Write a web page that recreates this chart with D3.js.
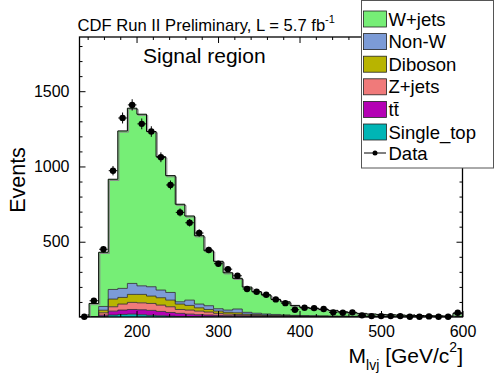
<!DOCTYPE html>
<html>
<head>
<meta charset="utf-8">
<script src="https://cdn.jsdelivr.net/npm/d3@7"></script>
<style>
  body { margin: 0; background: #fff; }
  svg text { font-family: "Liberation Sans", Arial, Helvetica, sans-serif; fill: #000; }
</style>
</head>
<body>
<div id="chart"></div>
<script>
"use strict"

// binning of the M_lvj histogram (GeV/c^2)
const xMin = 130, xMax = 600, nBins = 40;

// observed events per bin
const dataCounts = [2, 108, 450, 972, 1322, 1409, 1283, 1232, 1061, 877,
  695, 626, 558, 445, 354, 318, 274, 186, 168, 148,
  117, 92, 48, 61, 59, 53, 31, 28, 31, 11,
  6, 6, 6, 6, 2, 2, 4, 2, 2, 28];

// background expectations per bin (stacked bottom -> top)
const singleTop = [0, 0, 3, 13, 17, 19, 15, 11, 8, 6,
  4, 3, 2, 2, 1, 1, 1, 1, 1, 1,
  0, 0, 0, 0, 0, 0, 0, 0, 0, 0,
  0, 0, 0, 0, 0, 0, 0, 0, 0, 0];
const ttbar = [0, 0, 9, 26, 29, 31, 33, 33, 29, 24,
  20, 16, 13, 11, 10, 8, 8, 6, 5, 4,
  4, 4, 3, 3, 2, 2, 2, 1, 1, 1,
  1, 1, 1, 1, 0, 0, 0, 0, 0, 1];
const zjets = [0, 1, 16, 29, 40, 47, 46, 46, 42, 38,
  26, 27, 24, 20, 13, 10, 8, 6, 5, 4,
  4, 3, 3, 2, 2, 2, 1, 2, 1, 1,
  1, 1, 0, 0, 1, 1, 1, 0, 0, 1];
const diboson = [0, 0, 17, 51, 44, 53, 56, 49, 49, 44,
  36, 31, 22, 17, 15, 12, 11, 6, 5, 4,
  3, 3, 2, 2, 2, 1, 1, 1, 1, 1,
  1, 0, 1, 1, 0, 0, 0, 1, 1, 1];
const nonW = [0, 1, 25, 64, 60, 73, 57, 62, 51, 51,
  15, 35, 25, 25, 16, 15, 25, 12, 9, 7,
  6, 4, 3, 2, 2, 2, 2, 1, 2, 1,
  1, 1, 1, 0, 1, 1, 0, 0, 0, 1];
const wjets = [0, 88, 360, 732, 1046, 1164, 1140, 1031, 886, 776,
  648, 559, 454, 365, 315, 248, 204, 168, 143, 126,
  100, 87, 66, 55, 49, 43, 38, 30, 23, 20,
  16, 14, 12, 11, 9, 8, 8, 7, 6, 20];

const seriesNames = ["Single_top", "tt", "Z+jets", "Diboson", "Non-W", "W+jets"];
const seriesValues = [singleTop, ttbar, zjets, diboson, nonW, wjets];
const seriesColors = ["#00b5b5", "#b400b4", "#f07a7a", "#b8b400", "#7c9bd6", "#76ee76"];

const xTicks = [200, 300, 400, 500, 600];
const yTicks = [500, 1000, 1500];

const width = 498, height = 374;
const margin = {top: 37, right: 35.5, bottom: 57, left: 79.5};
const yMax = 1860;

const svg = d3.select("#chart").append("svg")
  .attr("width", width)
  .attr("height", height);

const x = d3.scaleLinear().domain([xMin, xMax]).range([margin.left, width - margin.right]);
const y = d3.scaleLinear().domain([0, yMax]).range([height - margin.bottom, margin.top]);

const binW = (xMax - xMin) / nBins;
const edges = d3.range(nBins + 1).map(i => xMin + i * binW);

// table for the stack
const rows = edges.slice(0, nBins).map((e, i) => {
  const r = {lo: e};
  seriesNames.forEach((n, k) => { r[n] = seriesValues[k][i]; });
  return r;
});
const stacked = d3.stack().keys(seriesNames)(rows);

svg.append("clipPath").attr("id", "plotclip")
  .append("rect")
  .attr("x", margin.left).attr("y", margin.top)
  .attr("width", x(xMax) - x(xMin)).attr("height", y(0) - y(yMax));

const plot = svg.append("g").attr("clip-path", "url(#plotclip)");

// step points: one per bin plus the closing edge
function stepPoints(layer) {
  const pts = layer.map((d, i) => ({e: edges[i], lo: d[0], hi: d[1]}));
  const last = pts[pts.length - 1];
  pts.push({e: edges[nBins], lo: last.lo, hi: last.hi});
  return pts;
}

const area = d3.area().curve(d3.curveStepAfter)
  .x(d => x(d.e)).y0(d => y(d.lo)).y1(d => y(d.hi));
const line = d3.line().curve(d3.curveStepAfter)
  .x(d => x(d.e)).y(d => y(d.hi));

stacked.slice().reverse().forEach(layer => {
  const k = seriesNames.indexOf(layer.key);
  plot.append("path")
    .attr("d", area(stepPoints(layer)))
    .attr("fill", seriesColors[k]);
});
stacked.forEach(layer => {
  if (layer.key === "W+jets") return;
  plot.append("path")
    .attr("d", line(stepPoints(layer)))
    .attr("fill", "none")
    .attr("stroke", "#2a2a2a")
    .attr("stroke-width", 0.8);
});

// total MC outline (with grey shadow)
const totalPts = stepPoints(stacked[stacked.length - 1]);
plot.append("path")
  .attr("d", line(totalPts))
  .attr("transform", "translate(1.2,1.2)")
  .attr("fill", "none")
  .attr("stroke", "#8a8a8a")
  .attr("stroke-width", 1);
plot.append("path")
  .attr("d", line(totalPts))
  .attr("fill", "none")
  .attr("stroke", "#000")
  .attr("stroke-width", 1);

// data points with error bars
const pts = svg.append("g");
dataCounts.forEach((n, i) => {
  const c = edges[i] + binW / 2;
  const err = Math.sqrt(n);
  pts.append("line")
    .attr("x1", x(c)).attr("x2", x(c))
    .attr("y1", y(n + err)).attr("y2", y(Math.max(0, n - err)))
    .attr("stroke", "#000").attr("stroke-width", 1);
  pts.append("line")
    .attr("x1", x(edges[i]) + 0.5).attr("x2", x(edges[i + 1]) - 0.5)
    .attr("y1", y(n)).attr("y2", y(n))
    .attr("stroke", "#000").attr("stroke-width", 1);
  pts.append("circle")
    .attr("cx", x(c)).attr("cy", y(n)).attr("r", 3.2)
    .attr("fill", "#000");
});

// axes (ticks pointing inwards on all four sides)
const minorX = d3.range(140, 600, 20).filter(v => v % 100 !== 0);
const minorY = d3.range(100, 1900, 100).filter(v => v % 500 !== 0);

function clean(g) {
  g.select(".domain").remove();
  g.selectAll(".tick line").attr("stroke", "#000");
}

svg.append("g")
  .attr("transform", "translate(0," + y(0) + ")")
  .style("font-size", "16px")
  .call(d3.axisBottom(x).tickValues(xTicks).tickSize(-6).tickPadding(9).tickFormat(d3.format("d")))
  .call(clean)
  .call(g => g.selectAll(".tick text").attr("fill", "#000").style("font-family", "Liberation Sans, Arial, sans-serif"));
svg.append("g")
  .attr("transform", "translate(0," + y(0) + ")")
  .call(d3.axisBottom(x).tickValues(minorX).tickSize(-3).tickFormat(""))
  .call(clean);
svg.append("g")
  .attr("transform", "translate(0," + y(yMax) + ")")
  .call(d3.axisTop(x).tickValues(xTicks).tickSize(-6).tickFormat(""))
  .call(clean);
svg.append("g")
  .attr("transform", "translate(0," + y(yMax) + ")")
  .call(d3.axisTop(x).tickValues(minorX).tickSize(-3).tickFormat(""))
  .call(clean);

svg.append("g")
  .attr("transform", "translate(" + x(xMin) + ",0)")
  .style("font-size", "16px")
  .call(d3.axisLeft(y).tickValues(yTicks).tickSize(-6).tickPadding(10).tickFormat(d3.format("d")))
  .call(clean)
  .call(g => g.selectAll(".tick text").attr("fill", "#000").style("font-family", "Liberation Sans, Arial, sans-serif"));
svg.append("g")
  .attr("transform", "translate(" + x(xMin) + ",0)")
  .call(d3.axisLeft(y).tickValues(minorY).tickSize(-3).tickFormat(""))
  .call(clean);
svg.append("g")
  .attr("transform", "translate(" + x(xMax) + ",0)")
  .call(d3.axisRight(y).tickValues(yTicks).tickSize(-6).tickFormat(""))
  .call(clean);
svg.append("g")
  .attr("transform", "translate(" + x(xMax) + ",0)")
  .call(d3.axisRight(y).tickValues(minorY).tickSize(-3).tickFormat(""))
  .call(clean);

// frame
svg.append("rect")
  .attr("x", x(xMin)).attr("y", y(yMax))
  .attr("width", x(xMax) - x(xMin)).attr("height", y(0) - y(yMax))
  .attr("fill", "none").attr("stroke", "#000").attr("stroke-width", 1.3);

// titles
const title = svg.append("text")
  .attr("x", 77.5).attr("y", 30.5)
  .style("font-size", "16.6px");
title.append("tspan").text("CDF Run II Preliminary, L = 5.7 fb");
title.append("tspan").attr("dy", -8).style("font-size", "11px").text("-1");

svg.append("text")
  .attr("x", 143).attr("y", 63)
  .style("font-size", "21px")
  .text("Signal region");

svg.append("text")
  .attr("transform", "translate(25,180) rotate(-90)")
  .attr("text-anchor", "middle")
  .style("font-size", "21.5px")
  .text("Events");

const xt = svg.append("text")
  .attr("x", 463).attr("y", 363)
  .attr("text-anchor", "end")
  .style("font-size", "21px");
xt.append("tspan").text("M");
xt.append("tspan").attr("dy", 7).style("font-size", "14px").text("lvj");
xt.append("tspan").attr("dy", -7).text(" [GeV/c");
xt.append("tspan").attr("dy", -11).style("font-size", "14px").text("2");
xt.append("tspan").attr("dy", 11).text("]");

// legend
const legendItems = ["W+jets", "Non-W", "Diboson", "Z+jets", "tt", "Single_top"];
const leg = svg.append("g");
leg.append("rect")
  .attr("x", 361.5).attr("y", 0.5).attr("width", 132).attr("height", 167.5)
  .attr("fill", "#fff").attr("stroke", "#555").attr("stroke-width", 1);
legendItems.forEach((name, i) => {
  const k = seriesNames.indexOf(name);
  const cy = 19 + i * 22.6;
  leg.append("rect")
    .attr("x", 363.5).attr("y", cy - 8).attr("width", 23).attr("height", 16)
    .attr("fill", seriesColors[k]).attr("stroke", "#222").attr("stroke-width", 0.8);
  leg.append("text")
    .attr("x", 388.5).attr("y", cy + 6.5)
    .style("font-size", "18.5px")
    .text(name === "tt" ? "tt\u0304" : name);
});
const dataY = 153;
leg.append("line")
  .attr("x1", 364).attr("x2", 386).attr("y1", dataY).attr("y2", dataY)
  .attr("stroke", "#000").attr("stroke-width", 1);
leg.append("circle").attr("cx", 375).attr("cy", dataY).attr("r", 2.5).attr("fill", "#000");
leg.append("text")
  .attr("x", 388.5).attr("y", dataY + 6.5)
  .style("font-size", "18.5px")
  .text("Data");
</script>
</body>
</html>
